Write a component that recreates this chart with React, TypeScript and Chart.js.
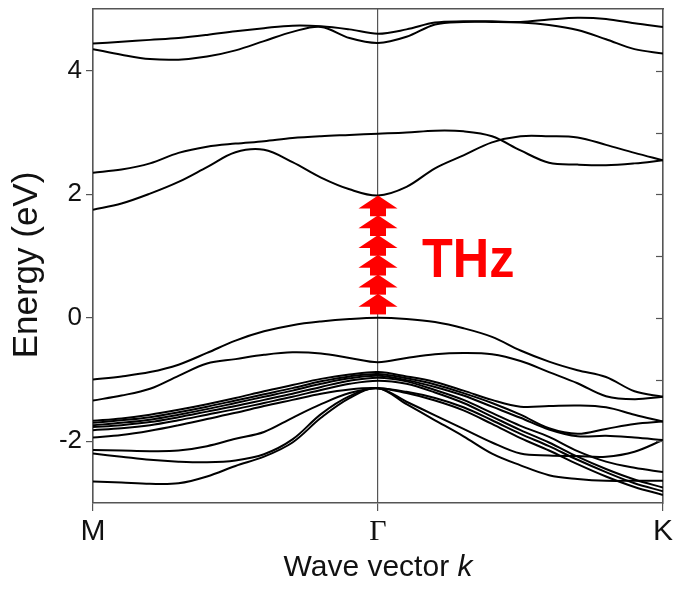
import { useEffect, useRef } from 'react';
import { Chart, registerables } from 'chart.js';

Chart.register(...registerables);

// k-path: M (0) -> Γ (1) -> K (2)
const kPath = [0, 0.1, 0.2, 0.3, 0.4, 0.5, 0.6, 0.7, 0.8, 0.9, 1, 1.1, 1.2, 1.3, 1.4, 1.5, 1.6, 1.7, 1.8, 1.9, 2];
const xTickValues = [0, 1, 2];
const xTickLabels = ['M', 'Γ', 'K'];
const yTickValues = [-2, 0, 2, 4];
const yRightTicks = [-2, -1, 0, 1, 2, 3, 4];

// conduction bands
const bandC4 = [4.44, 4.47, 4.5, 4.53, 4.58, 4.64, 4.69, 4.73, 4.72, 4.67, 4.6, 4.67, 4.78, 4.8, 4.8, 4.79, 4.83, 4.86, 4.84, 4.77, 4.71];
const bandC3 = [4.35, 4.26, 4.19, 4.18, 4.23, 4.33, 4.48, 4.63, 4.71, 4.53, 4.45, 4.55, 4.75, 4.79, 4.79, 4.78, 4.74, 4.66, 4.51, 4.35, 4.28];
const bandC2 = [2.35, 2.4, 2.5, 2.67, 2.77, 2.82, 2.86, 2.91, 2.94, 2.96, 2.98, 3.0, 3.03, 3.02, 2.94, 2.71, 2.51, 2.48, 2.47, 2.5, 2.55];
const bandC1 = [1.75, 1.85, 2.01, 2.2, 2.44, 2.68, 2.72, 2.52, 2.27, 2.08, 1.98, 2.12, 2.42, 2.63, 2.84, 2.94, 2.94, 2.92, 2.8, 2.67, 2.55];
// valence bands
const bandV1 = [-1.0, -0.95, -0.88, -0.76, -0.57, -0.37, -0.22, -0.12, -0.06, -0.02, 0.0, -0.02, -0.07, -0.17, -0.31, -0.53, -0.71, -0.85, -0.96, -1.19, -1.28];
const bandV2 = [-1.34, -1.26, -1.15, -0.94, -0.74, -0.67, -0.6, -0.56, -0.58, -0.65, -0.72, -0.65, -0.59, -0.57, -0.59, -0.7, -0.88, -1.06, -1.27, -1.32, -1.28];
const bandV3 = [-1.67, -1.63, -1.57, -1.49, -1.4, -1.3, -1.19, -1.09, -0.99, -0.92, -0.88, -0.95, -1.04, -1.18, -1.33, -1.44, -1.43, -1.42, -1.45, -1.57, -1.68];
const bandV4 = [-1.7, -1.66, -1.61, -1.53, -1.44, -1.34, -1.24, -1.14, -1.03, -0.95, -0.91, -0.98, -1.08, -1.22, -1.38, -1.57, -1.79, -1.88, -1.8, -1.72, -1.68];
const bandV5 = [-1.74, -1.7, -1.65, -1.57, -1.48, -1.38, -1.28, -1.18, -1.07, -0.98, -0.94, -1.01, -1.12, -1.26, -1.44, -1.62, -1.81, -1.92, -1.91, -1.94, -1.98];
const bandV6 = [-1.77, -1.74, -1.69, -1.61, -1.52, -1.43, -1.33, -1.23, -1.12, -1.02, -0.97, -1.03, -1.17, -1.33, -1.54, -1.75, -1.93, -2.16, -2.33, -2.43, -2.5];
const bandV7 = [-1.82, -1.79, -1.74, -1.66, -1.57, -1.48, -1.38, -1.28, -1.17, -1.07, -1.02, -1.07, -1.21, -1.38, -1.6, -1.82, -2.02, -2.25, -2.45, -2.62, -2.75];
const bandV8 = [-1.94, -1.9, -1.83, -1.74, -1.64, -1.54, -1.43, -1.33, -1.23, -1.16, -1.14, -1.2, -1.3, -1.45, -1.66, -1.88, -2.08, -2.3, -2.5, -2.68, -2.81];
const bandV9 = [-2.14, -2.15, -2.16, -2.15, -2.08, -1.96, -1.85, -1.62, -1.4, -1.22, -1.14, -1.22, -1.34, -1.5, -1.72, -1.95, -2.15, -2.37, -2.57, -2.74, -2.87];
const bandV10 = [-2.2, -2.25, -2.3, -2.33, -2.34, -2.31, -2.21, -1.97, -1.56, -1.27, -1.14, -1.36, -1.58, -1.8, -2.02, -2.2, -2.23, -2.24, -2.25, -2.17, -1.98];
const bandV11 = [-2.65, -2.67, -2.69, -2.68, -2.57, -2.4, -2.25, -2.02, -1.62, -1.3, -1.14, -1.4, -1.66, -1.92, -2.2, -2.39, -2.55, -2.61, -2.64, -2.64, -2.64];

const bands = [bandC4, bandC3, bandC2, bandC1, bandV1, bandV2, bandV3, bandV4, bandV5, bandV6, bandV7, bandV8, bandV9, bandV10, bandV11];

// THz excitation arrows at Γ (energies of arrow tips, eV)
const arrowK = 1;
const arrowTips = [1.98, 1.66, 1.34, 1.02, 0.7, 0.39];
const arrowBase = 0.07;
const annotationText = 'THz';

const SANS = '"Liberation Sans", Arial, Helvetica, sans-serif';
const SERIF = '"Liberation Serif", "Times New Roman", serif';
const FRAME = '#555555';
const TEXT = '#111111';

const decorPlugin = {
  id: 'decor',
  afterDatasetsDraw(chart: any) {
    const { ctx, chartArea } = chart;
    const xs = chart.scales.x;
    const ys = chart.scales.y;
    ctx.save();
    // inward ticks on the right frame
    ctx.strokeStyle = FRAME;
    ctx.lineWidth = 1.2;
    for (const v of yRightTicks) {
      const py = Math.round(ys.getPixelForValue(v)) + 0.5;
      ctx.beginPath();
      ctx.moveTo(chartArea.right - 7, py);
      ctx.lineTo(chartArea.right, py);
      ctx.stroke();
    }
    // stacked red arrows
    const ax = xs.getPixelForValue(arrowK);
    ctx.fillStyle = '#ff0000';
    arrowTips.forEach((e, i) => {
      const tipY = ys.getPixelForValue(e);
      const nextY = i < arrowTips.length - 1 ? ys.getPixelForValue(arrowTips[i + 1]) : ys.getPixelForValue(arrowBase);
      ctx.beginPath();
      ctx.moveTo(ax, tipY);
      ctx.lineTo(ax + 19.5, tipY + 13);
      ctx.lineTo(ax - 19.5, tipY + 13);
      ctx.closePath();
      ctx.fill();
      ctx.fillRect(ax - 8, tipY + 12, 16, nextY - tipY - 11);
    });
    // THz label
    ctx.font = `bold 56px ${SANS}`;
    ctx.textAlign = 'left';
    ctx.textBaseline = 'alphabetic';
    ctx.translate(ax + 44, ys.getPixelForValue(0.66));
    ctx.scale(0.9, 1);
    ctx.fillText(annotationText, 0, 0);
    ctx.restore();
  },
  afterDraw(chart: any) {
    const { ctx, chartArea } = chart;
    ctx.save();
    ctx.fillStyle = TEXT;
    // x-axis title: "Wave vector k" with italic k
    const part1 = 'Wave vector ';
    const part2 = 'k';
    ctx.font = `30px ${SANS}`;
    const w1 = ctx.measureText(part1).width;
    ctx.font = `italic 30px ${SANS}`;
    const w2 = ctx.measureText(part2).width;
    const cx = (chartArea.left + chartArea.right) / 2;
    const startX = cx - (w1 + w2) / 2;
    ctx.textAlign = 'left';
    ctx.textBaseline = 'alphabetic';
    ctx.font = `30px ${SANS}`;
    ctx.fillText(part1, startX, 576);
    ctx.font = `italic 30px ${SANS}`;
    ctx.fillText(part2, startX + w1, 576);
    // y-axis title
    ctx.translate(37, 265);
    ctx.rotate(-Math.PI / 2);
    ctx.font = `35px ${SANS}`;
    ctx.textAlign = 'center';
    ctx.fillText('Energy (eV)', 0, 0);
    ctx.restore();
  },
};

export default function App() {
  const canvasRef = useRef<HTMLCanvasElement | null>(null);

  useEffect(() => {
    const canvas = canvasRef.current;
    if (!canvas) return;
    const datasets = bands.map((b) => ({
      data: kPath.map((k, i) => ({ x: k, y: b[i] })),
      borderColor: '#000000',
      borderWidth: 2,
      pointRadius: 0,
      fill: false,
      tension: 0.35,
    }));
    const chart = new Chart(canvas, {
      type: 'line',
      data: { datasets },
      options: {
        animation: false,
        responsive: false,
        devicePixelRatio: 1,
        layout: { padding: { top: 9, right: 20, left: 0, bottom: 0 } },
        plugins: { legend: { display: false }, tooltip: { enabled: false } },
        scales: {
          x: {
            type: 'linear',
            position: 'bottom',
            min: 0,
            max: 2,
            afterBuildTicks: (s: any) => {
              s.ticks = xTickValues.map((v) => ({ value: v }));
            },
            ticks: {
              autoSkip: false,
              maxRotation: 0,
              padding: 3,
              color: TEXT,
              callback: (v: any) => xTickLabels[Math.round(Number(v))],
              font: (c: any) =>
                c.tick && c.tick.value === 1 ? { family: SERIF, size: 30 } : { family: SANS, size: 30 },
            },
            grid: { drawOnChartArea: true, color: FRAME, tickColor: FRAME, tickLength: 8, lineWidth: 1.2 },
            border: { color: FRAME, width: 1.5 },
            afterFit: (s: any) => {
              s.height = 90;
              s.paddingLeft = 0;
              s.paddingRight = 0;
            },
          },
          xTop: {
            type: 'linear',
            position: 'top',
            min: 0,
            max: 2,
            ticks: { display: false },
            grid: { drawOnChartArea: false, drawTicks: false },
            border: { color: FRAME, width: 1.5 },
            afterFit: (s: any) => {
              s.height = 0;
              s.paddingLeft = 0;
              s.paddingRight = 0;
            },
          },
          y: {
            type: 'linear',
            position: 'left',
            min: -3,
            max: 5,
            afterBuildTicks: (s: any) => {
              s.ticks = yTickValues.map((v) => ({ value: v }));
            },
            ticks: {
              padding: 4,
              color: TEXT,
              font: { family: SANS, size: 26 },
              callback: (v: any) => String(v),
            },
            grid: { drawOnChartArea: false, color: FRAME, tickLength: 7, lineWidth: 1.2 },
            border: { color: FRAME, width: 1.5 },
            afterFit: (s: any) => {
              s.width = 93;
              s.paddingTop = 0;
              s.paddingBottom = 0;
            },
          },
          yRight: {
            type: 'linear',
            position: 'right',
            min: -3,
            max: 5,
            ticks: { display: false },
            grid: { drawOnChartArea: false, drawTicks: false },
            border: { color: FRAME, width: 1.5 },
            afterFit: (s: any) => {
              s.width = 0;
              s.paddingTop = 0;
              s.paddingBottom = 0;
            },
          },
        },
      },
      plugins: [decorPlugin],
    });
    return () => chart.destroy();
  }, []);

  return (
    <div style={{ position: 'absolute', left: 0, top: 0, width: 683, height: 593, background: '#ffffff' }}>
      <canvas ref={canvasRef} width={683} height={593} style={{ display: 'block' }} />
    </div>
  );
}
